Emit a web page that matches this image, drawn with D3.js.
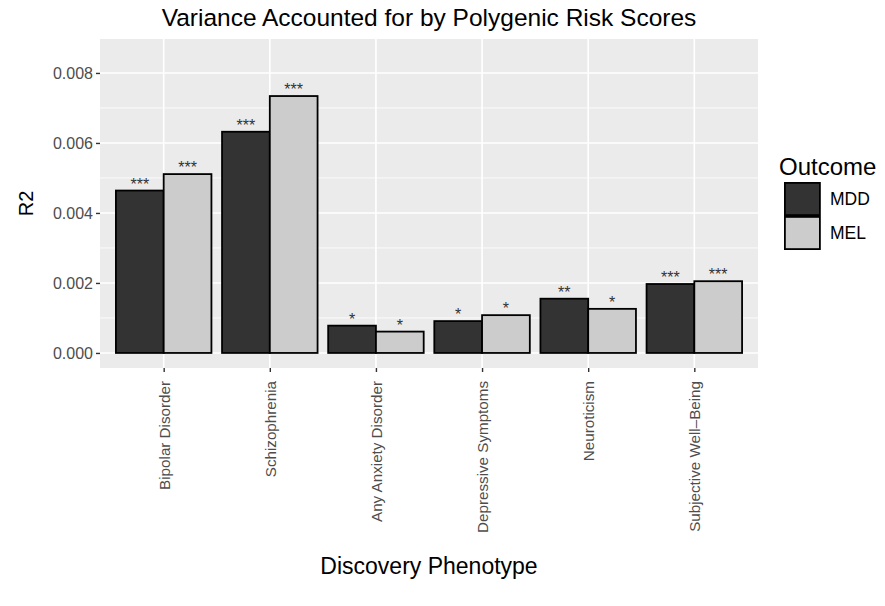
<!DOCTYPE html>
<html>
<head>
<meta charset="utf-8">
<script src="https://cdn.jsdelivr.net/npm/d3@7"></script>
<style>
	body { margin: 0; background: #fff; }
	text { font-family: "Liberation Sans", Arial, sans-serif; }
</style>
</head>
<body>
<svg id="chart" width="885" height="606"></svg>
<script>
'use strict';

// values
const phenotypes = ["Bipolar Disorder", "Schizophrenia", "Any Anxiety Disorder",
	"Depressive Symptoms", "Neuroticism", "Subjective Well\u2013Being"];
const outcomes = ["MDD", "MEL"];
const mddR2 = [0.00464, 0.00632, 0.00078, 0.00091, 0.00155, 0.00197];
const melR2 = [0.00511, 0.00734, 0.00061, 0.00108, 0.00126, 0.00205];
const mddStars = ["***", "***", "*", "*", "**", "***"];
const melStars = ["***", "***", "*", "*", "*", "***"];
const yTicks = [0, 0.002, 0.004, 0.006, 0.008];
const yMinor = [0.001, 0.003, 0.005, 0.007];

(function () {

	const fill = d3.scaleOrdinal().domain(outcomes).range(["#333333", "#cccccc"]);

	const panel = { left: 100, right: 758, top: 39, bottom: 368 };

	const svg = d3.select("#chart");

	const x = d3.scalePoint()
		.domain(phenotypes)
		.range([panel.left, panel.right])
		.padding(0.6);

	const step = x.step();
	const xSub = d3.scaleBand()
		.domain(outcomes)
		.range([-0.45 * step, 0.45 * step]);

	const y = d3.scaleLinear()
		.domain([-0.00043, 0.00897])
		.range([panel.bottom, panel.top]);

	const rows = [];
	phenotypes.forEach((p, i) => {
		rows.push({ phen: p, outcome: "MDD", value: mddR2[i], stars: mddStars[i] });
		rows.push({ phen: p, outcome: "MEL", value: melR2[i], stars: melStars[i] });
	});

	// panel background + grid
	svg.append("rect")
		.attr("x", panel.left)
		.attr("y", panel.top)
		.attr("width", panel.right - panel.left)
		.attr("height", panel.bottom - panel.top)
		.attr("fill", "#ebebeb");

	svg.append("g").selectAll("line")
		.data(yMinor)
		.enter()
		.append("line")
		.attr("x1", panel.left)
		.attr("x2", panel.right)
		.attr("y1", d => y(d))
		.attr("y2", d => y(d))
		.attr("stroke", "#fff")
		.attr("stroke-width", 0.8);

	svg.append("g").selectAll("line")
		.data(yTicks)
		.enter()
		.append("line")
		.attr("x1", panel.left)
		.attr("x2", panel.right)
		.attr("y1", d => y(d))
		.attr("y2", d => y(d))
		.attr("stroke", "#fff")
		.attr("stroke-width", 1.6);

	svg.append("g").selectAll("line")
		.data(phenotypes)
		.enter()
		.append("line")
		.attr("x1", d => x(d))
		.attr("x2", d => x(d))
		.attr("y1", panel.top)
		.attr("y2", panel.bottom)
		.attr("stroke", "#fff")
		.attr("stroke-width", 1.6);

	// bars
	const gBar = svg.append("g").selectAll("g.bar")
		.data(rows)
		.enter()
		.append("g")
		.classed("bar", true);

	gBar.append("rect")
		.attr("x", d => x(d.phen) + xSub(d.outcome))
		.attr("y", d => y(d.value))
		.attr("width", xSub.bandwidth())
		.attr("height", d => y(0) - y(d.value))
		.attr("fill", d => fill(d.outcome))
		.attr("stroke", "#000")
		.attr("stroke-width", 1.8);

	gBar.append("text")
		.attr("x", d => x(d.phen) + xSub(d.outcome) + xSub.bandwidth() / 2)
		.attr("y", d => y(d.value) - 1)
		.attr("text-anchor", "middle")
		.attr("font-size", 16)
		.attr("fill", "#333")
		.text(d => d.stars);

	// axes
	const yAxis = d3.axisLeft(y)
		.tickValues(yTicks)
		.tickFormat(d3.format(".3f"))
		.tickSize(4)
		.tickPadding(3);

	const gy = svg.append("g")
		.attr("transform", `translate(${panel.left},0)`)
		.call(yAxis);
	gy.select(".domain").remove();
	gy.selectAll(".tick line").attr("stroke", "#333").attr("stroke-width", 1.4);
	gy.selectAll(".tick text")
		.attr("fill", "#4d4d4d")
		.attr("font-size", 16);

	const xAxis = d3.axisBottom(x).tickSize(4).tickPadding(0);
	const gx = svg.append("g")
		.attr("transform", `translate(0,${panel.bottom})`)
		.call(xAxis);
	gx.select(".domain").remove();
	gx.selectAll(".tick line").attr("stroke", "#333").attr("stroke-width", 1.4);
	gx.selectAll(".tick text")
		.attr("fill", "#4d4d4d")
		.attr("font-size", 15.2)
		.attr("transform", "rotate(-90)")
		.attr("text-anchor", "end")
		.attr("x", -13)
		.attr("y", 0)
		.attr("dy", "0.35em");

	// titles
	svg.append("text")
		.attr("x", (panel.left + panel.right) / 2)
		.attr("y", 26)
		.attr("text-anchor", "middle")
		.attr("font-size", 24.5)
		.attr("fill", "#000")
		.text("Variance Accounted for by Polygenic Risk Scores");

	svg.append("text")
		.attr("x", (panel.left + panel.right) / 2)
		.attr("y", 574)
		.attr("text-anchor", "middle")
		.attr("font-size", 23)
		.attr("fill", "#000")
		.text("Discovery Phenotype");

	svg.append("text")
		.attr("transform", `translate(33,${(panel.top + panel.bottom) / 2}) rotate(-90)`)
		.attr("text-anchor", "middle")
		.attr("font-size", 20)
		.attr("fill", "#000")
		.text("R2");

	// legend
	const legend = svg.append("g").attr("transform", "translate(779,0)");
	legend.append("text")
		.attr("x", 0)
		.attr("y", 175)
		.attr("font-size", 24)
		.attr("fill", "#000")
		.text("Outcome");

	const gKey = legend.selectAll("g.key")
		.data(outcomes)
		.enter()
		.append("g")
		.classed("key", true)
		.attr("transform", (d, i) => `translate(5,${182 + i * 34})`);

	gKey.append("rect")
		.attr("x", 0.9)
		.attr("y", 0.9)
		.attr("width", 35)
		.attr("height", 32.2)
		.attr("fill", d => fill(d))
		.attr("stroke", "#000")
		.attr("stroke-width", 1.8);

	gKey.append("text")
		.attr("x", 46)
		.attr("y", 17)
		.attr("dy", "0.35em")
		.attr("font-size", 17.5)
		.attr("fill", "#000")
		.text(d => d);

})();
</script>
</body>
</html>
